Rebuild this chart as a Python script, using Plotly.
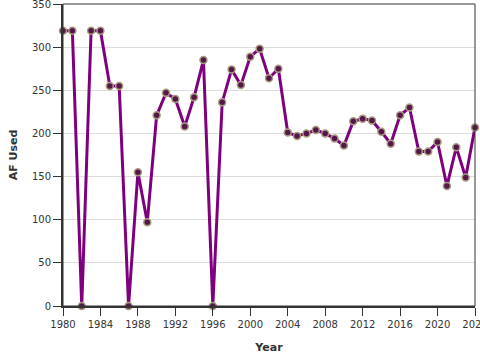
import plotly.graph_objects as go

years = list(range(1980, 2025))
af_used = [319, 319, 0, 319, 319, 255, 255, 0, 155, 97,
           221, 247, 240, 208, 242, 285, 0, 236, 274, 256,
           289, 298, 264, 275, 201, 197, 200, 204, 200, 194,
           186, 214, 217, 215, 202, 188, 221, 230, 179, 179,
           190, 139, 184, 149, 207]
x_ticks = list(range(1980, 2025, 4))
y_ticks = list(range(0, 351, 50))

fig = go.Figure()
fig.add_trace(go.Scatter(
    x=years, y=af_used, mode="lines+markers",
    line=dict(color="#7f007f", width=3),
    marker=dict(size=7, color="#55164a", line=dict(color="#a89c80", width=1.5)),
    cliponaxis=False, showlegend=False,
))
fig.add_shape(type="rect", xref="paper", yref="paper", x0=0, y0=0, x1=1, y1=1,
              line=dict(color="#333333", width=1), layer="above")
font = "DejaVu Sans, Verdana, sans-serif"
fig.update_layout(
    width=480, height=360,
    margin=dict(l=63, r=5, t=4, b=54),
    plot_bgcolor="white", paper_bgcolor="white",
    font=dict(family=font, size=10, color="#333333"),
    xaxis=dict(range=[1980, 2024], tickvals=x_ticks, ticks="outside", ticklen=8,
               tickcolor="#333333", showline=True, linewidth=2, linecolor="#333333",
               showgrid=False, zeroline=False, ticklabeloverflow="allow", automargin=False,
               title=dict(text="<b>Year</b>", font=dict(size=11), standoff=14)),
    yaxis=dict(range=[0, 350], tickvals=y_ticks, ticks="outside", ticklen=8,
               tickcolor="#333333", showline=True, linewidth=2, linecolor="#333333",
               showgrid=True, gridcolor="#dddddd", zeroline=False, ticklabeloverflow="allow",
               automargin=False,
               title=dict(text="<b>AF Used</b>", font=dict(size=11), standoff=12)),
)
fig.write_html("out.html")
